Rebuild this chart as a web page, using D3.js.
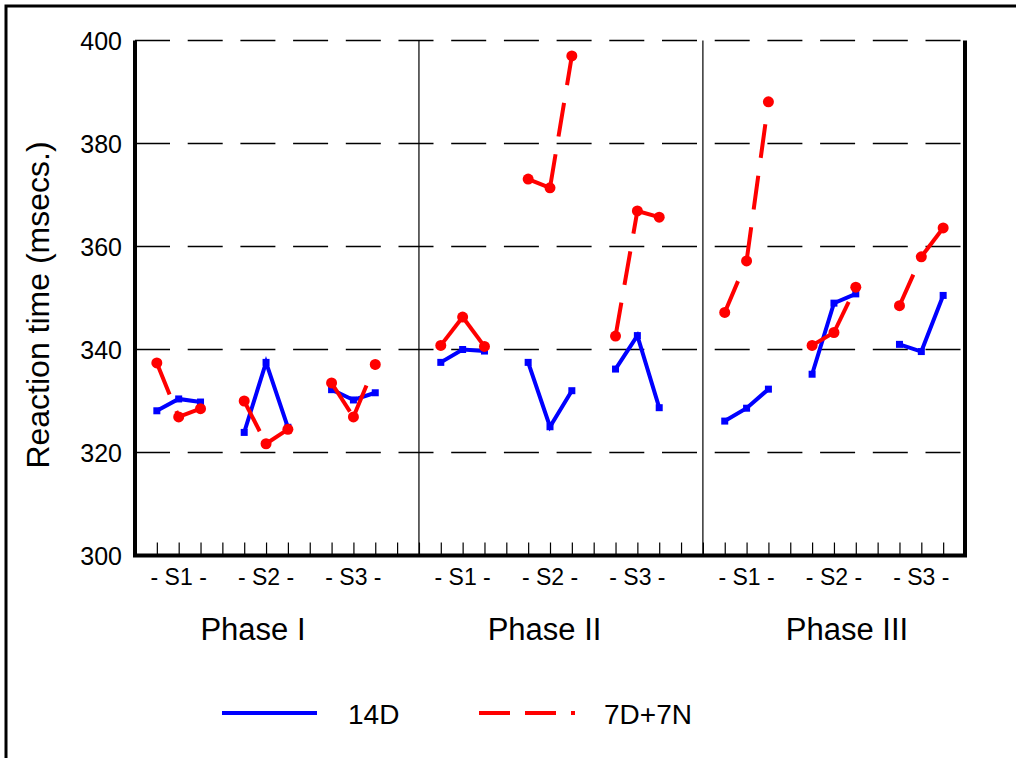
<!DOCTYPE html>
<html>
<head>
<meta charset="utf-8">
<script src="https://cdn.jsdelivr.net/npm/d3@7"></script>
<style>
  body { margin: 0; background: #fff; }
  text { font-family: "Liberation Sans", Arial, sans-serif; fill: #000; }
</style>
</head>
<body>
<svg id="chart" width="1016" height="758"></svg>
<script>
// Phases, sessions and groups
var phases = ["Phase I", "Phase II", "Phase III"];
var sessions = ["- S1 -", "- S2 -", "- S3 -"];
var yTicks = [300, 320, 340, 360, 380, 400];
var gridValues = [320, 340, 360, 380, 400];

// Reaction time per day, 3 days per session, 9 sessions (phase by phase)
var rt14D = [
    328.1, 330.4, 329.8,   323.9, 337.5, 324.9,   332.2, 330.2, 331.6,
    337.5, 340.0, 339.7,   337.5, 325.0, 332.0,   336.2, 342.7, 328.7,
    326.1, 328.6, 332.3,   335.2, 349.0, 350.8,   341.0, 339.6, 350.5
];
var rt7D7N = [
    337.4, 326.9, 328.5,   330.0, 321.7, 324.5,   333.5, 326.9, 337.1,
    340.8, 346.3, 340.6,   373.1, 371.4, 397.0,   342.6, 366.9, 365.7,
    347.2, 357.2, 388.1,   340.8, 343.3, 352.1,   348.5, 358.0, 363.6
];

// x positions are slots on a 0..38 axis: each phase has 13 slots,
// each session 3 days followed by one empty slot
function slotOf(i) {
    var phase = Math.floor(i / 9);
    var session = Math.floor((i % 9) / 3);
    var day = i % 3;
    return phase * 13 + session * 4 + day + 1;
}

var svg = d3.select("#chart");

var x = d3.scaleLinear().domain([0, 38]).range([135, 965]);
var y = d3.scaleLinear().domain([300, 400]).range([555.5, 40.5]);

// outer frame
svg.append("rect")
    .attr("x", 6).attr("y", 6)
    .attr("width", 1030).attr("height", 780)
    .attr("fill", "none")
    .attr("stroke", "#000")
    .attr("stroke-width", 3);

// dashed grid lines
svg.append("g")
    .selectAll("line")
    .data(gridValues)
    .enter()
    .append("line")
    .attr("x1", x(0))
    .attr("x2", x(38) - 4)
    .attr("y1", d => y(d))
    .attr("y2", d => y(d))
    .attr("stroke", "#000")
    .attr("stroke-width", 1.3)
    .attr("stroke-dasharray", "35,17.7");

// phase dividers
svg.append("g")
    .selectAll("line")
    .data([13, 26])
    .enter()
    .append("line")
    .attr("x1", d => x(d)).attr("x2", d => x(d))
    .attr("y1", y(400)).attr("y2", y(300))
    .attr("stroke", "#000")
    .attr("stroke-width", 1.2);

// x ticks pointing up into the plot
var xAxis = d3.axisBottom(x)
    .tickValues(d3.range(1, 38))
    .tickSize(-13)
    .tickFormat("");
var gx = svg.append("g")
    .attr("transform", "translate(0," + y(300) + ")")
    .call(xAxis);
gx.select(".domain").remove();
gx.selectAll("line").attr("stroke", "#000").attr("stroke-width", 1.2);

// y axis labels
var yAxis = d3.axisLeft(y)
    .tickValues(yTicks)
    .tickSize(0)
    .tickPadding(13);
var gy = svg.append("g")
    .attr("transform", "translate(" + x(0) + ",0)")
    .call(yAxis);
gy.select(".domain").remove();
gy.selectAll("text")
    .style("font-size", "25px")
    .style("font-family", "'Liberation Sans', Arial, sans-serif")
    .attr("dy", "0.36em");

// axis frame: left, bottom and right
svg.append("path")
    .attr("d", "M" + x(0) + "," + y(400) + "V" + y(300) + "H" + x(38) + "V" + y(400))
    .attr("fill", "none")
    .attr("stroke", "#000")
    .attr("stroke-width", 4);

// y title
svg.append("text")
    .attr("transform", "translate(49," + 305 + ") rotate(-90)")
    .attr("text-anchor", "middle")
    .style("font-size", "32px")
    .text("Reaction time (msecs.)");

// session labels
var sessionSlots = [];
phases.forEach((p, pi) => sessions.forEach((s, si) => {
    sessionSlots.push({ label: s, slot: pi * 13 + si * 4 + 2 });
}));
svg.append("g")
    .selectAll("text")
    .data(sessionSlots)
    .enter()
    .append("text")
    .attr("x", d => x(d.slot))
    .attr("y", 585)
    .attr("text-anchor", "middle")
    .style("font-size", "23px")
    .text(d => d.label);

// phase labels
var phaseSlots = [5.4, 18.75, 32.6];
svg.append("g")
    .selectAll("text")
    .data(phases)
    .enter()
    .append("text")
    .attr("x", (d, i) => x(phaseSlots[i]))
    .attr("y", 640)
    .attr("text-anchor", "middle")
    .style("font-size", "31px")
    .text(d => d);

// split a series into per-session point lists
function sessionsOf(values) {
    var out = [];
    for (var s = 0; s < 9; s++) {
        out.push(d3.range(3).map(d => ({ slot: slotOf(s * 3 + d), v: values[s * 3 + d] })));
    }
    return out;
}

var line = d3.line()
    .x(d => x(d.slot))
    .y(d => y(d.v));

// 14D: solid blue with square markers
var blue = "#0000ff";
svg.append("g")
    .selectAll("path")
    .data(sessionsOf(rt14D))
    .enter()
    .append("path")
    .attr("d", line)
    .attr("fill", "none")
    .attr("stroke", blue)
    .attr("stroke-width", 4);
svg.append("g")
    .selectAll("rect")
    .data(rt14D)
    .enter()
    .append("rect")
    .attr("x", (d, i) => x(slotOf(i)) - 3.5)
    .attr("y", d => y(d) - 3.5)
    .attr("width", 7)
    .attr("height", 7)
    .attr("fill", blue);

// 7D+7N: dashed red, dash pattern restarts on every segment
var red = "#ff0000";
var segs = [];
sessionsOf(rt7D7N).forEach(pts => {
    segs.push([pts[0], pts[1]]);
    segs.push([pts[1], pts[2]]);
});
svg.append("g")
    .selectAll("path")
    .data(segs)
    .enter()
    .append("path")
    .attr("d", line)
    .attr("fill", "none")
    .attr("stroke", red)
    .attr("stroke-width", 4)
    .attr("stroke-dasharray", "34,18");
svg.append("g")
    .selectAll("circle")
    .data(rt7D7N)
    .enter()
    .append("circle")
    .attr("cx", (d, i) => x(slotOf(i)))
    .attr("cy", d => y(d))
    .attr("r", 5.5)
    .attr("fill", red);

// legend
var legend = svg.append("g").attr("transform", "translate(0,713)");
legend.append("line")
    .attr("x1", 222).attr("x2", 317)
    .attr("stroke", blue).attr("stroke-width", 4);
legend.append("text")
    .attr("x", 348).attr("y", 11)
    .style("font-size", "28px")
    .text("14D");
legend.append("line")
    .attr("x1", 479).attr("x2", 575)
    .attr("stroke", red).attr("stroke-width", 4)
    .attr("stroke-dasharray", "31,15,31,15,4,30");
legend.append("text")
    .attr("x", 604).attr("y", 11)
    .style("font-size", "28px")
    .text("7D+7N");
</script>
</body>
</html>
